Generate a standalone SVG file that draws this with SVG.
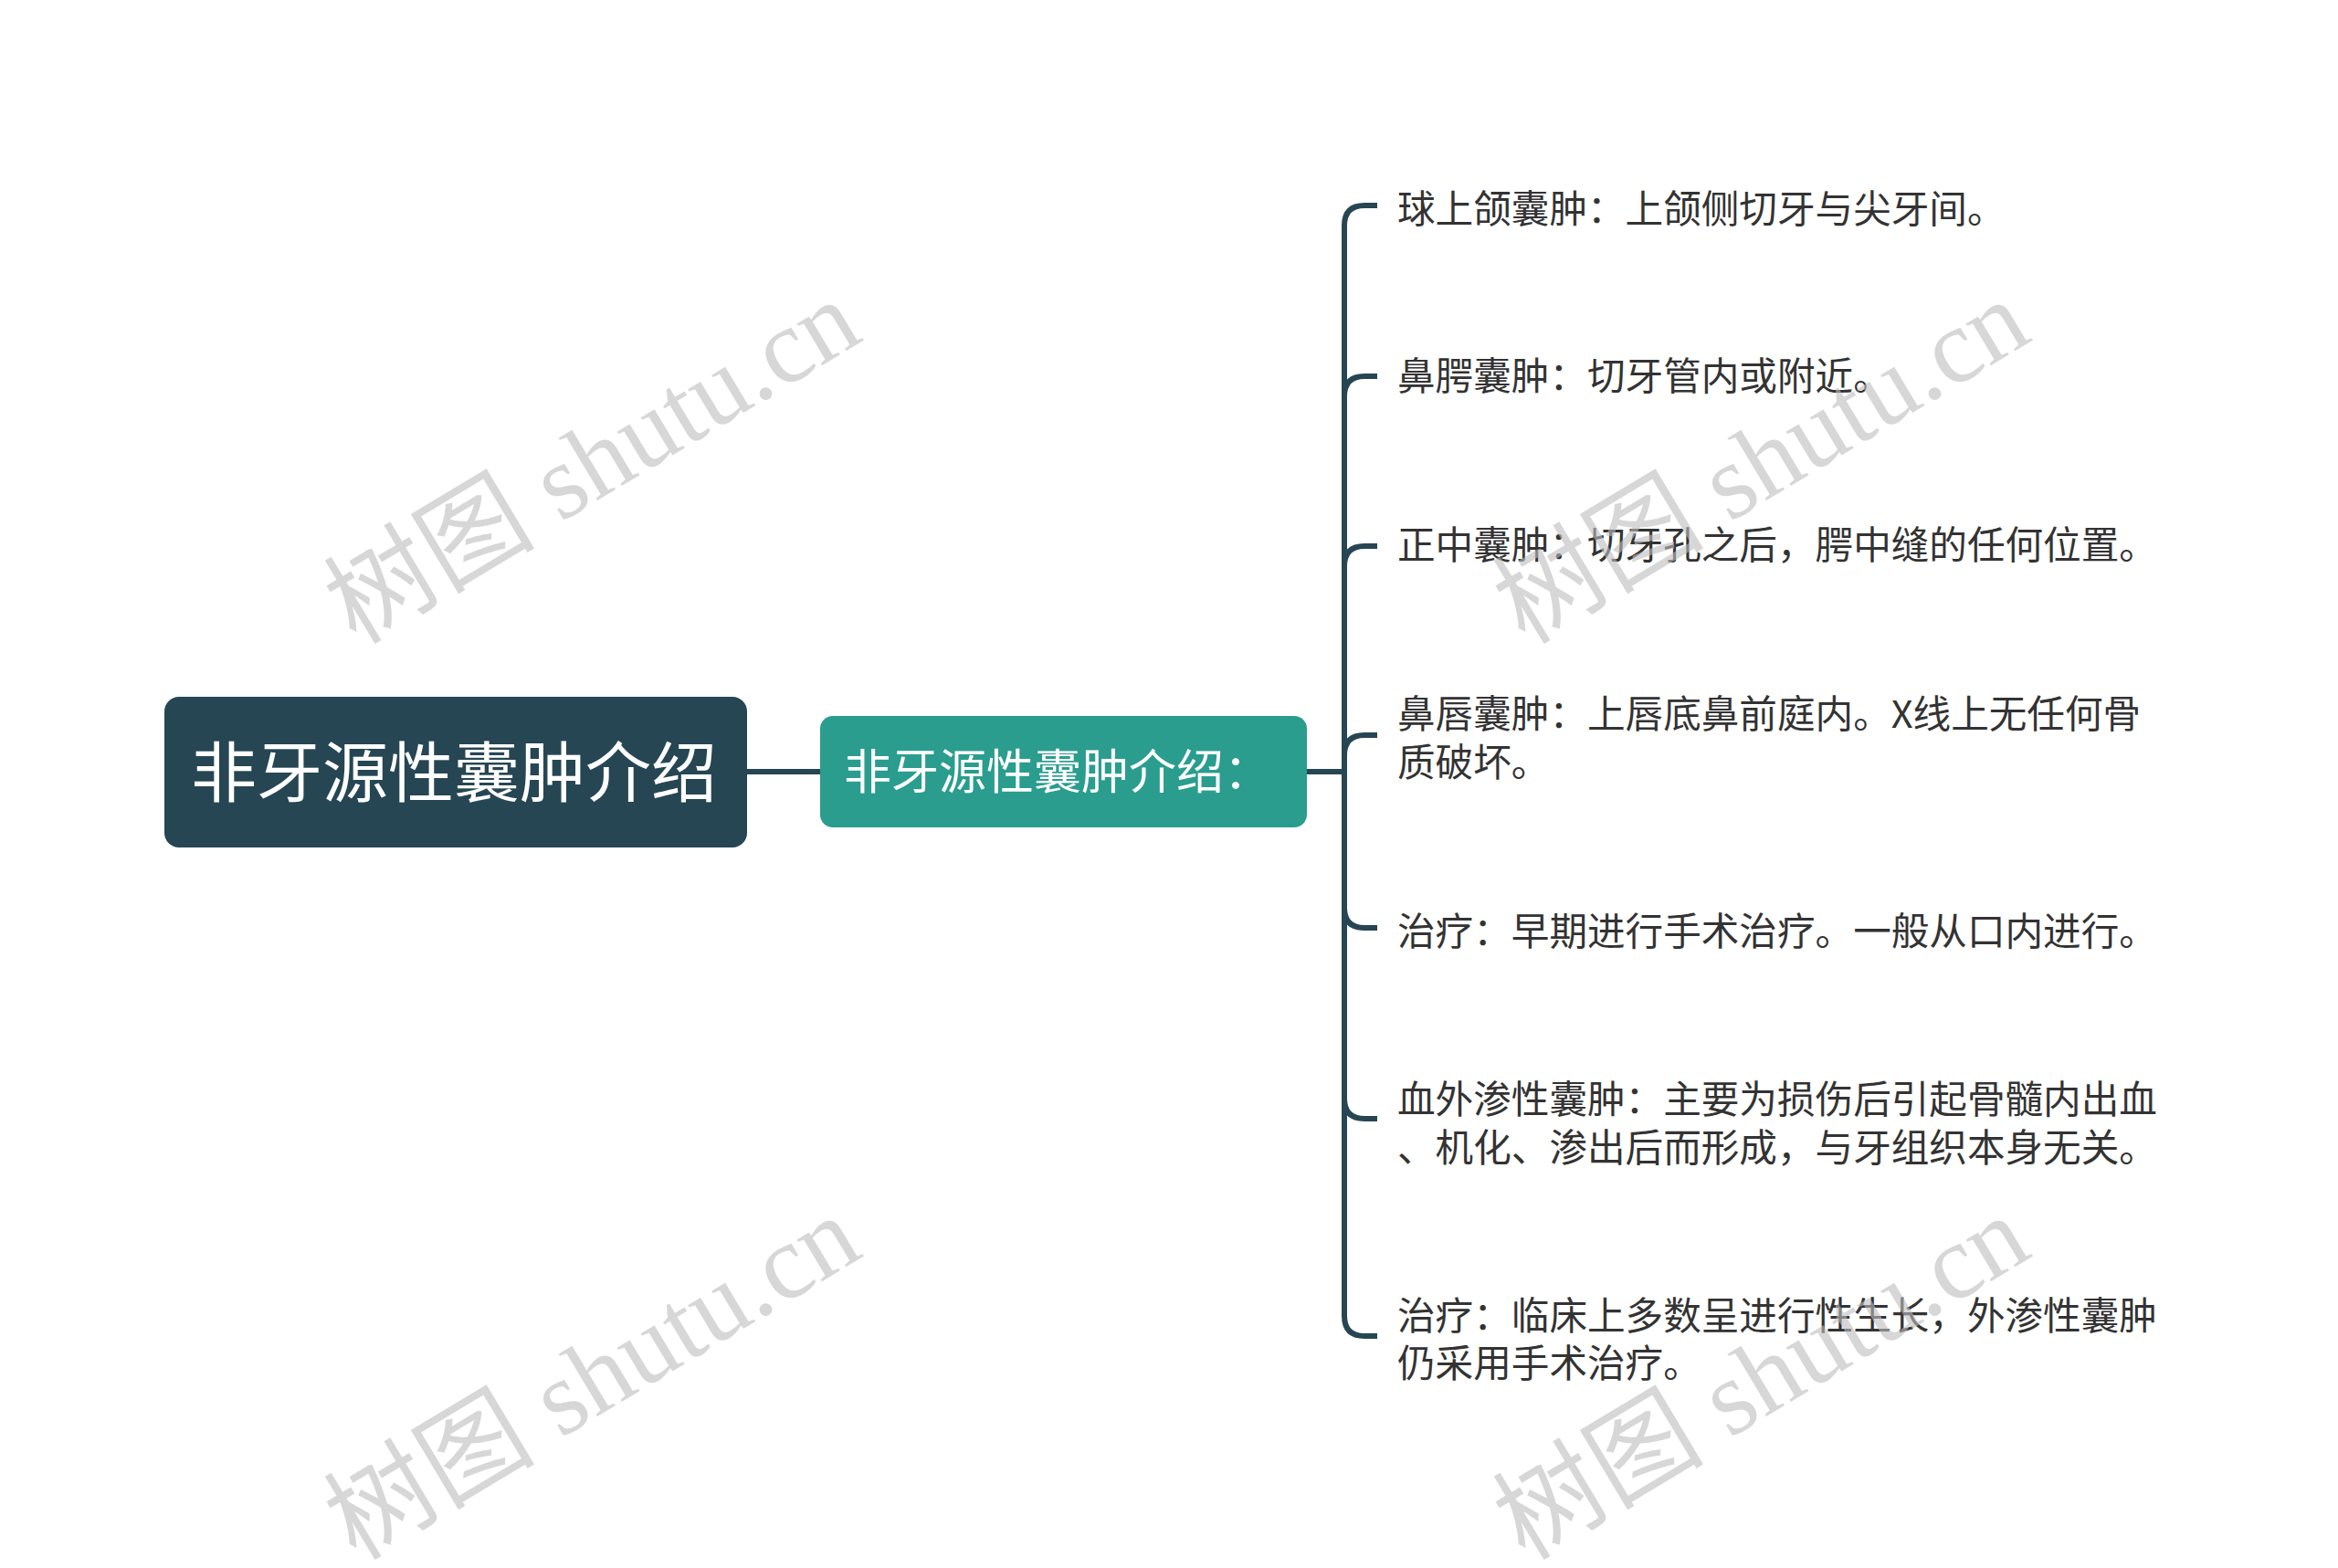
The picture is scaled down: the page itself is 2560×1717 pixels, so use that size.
<svg xmlns="http://www.w3.org/2000/svg" width="2560" height="1717" viewBox="0 0 2560 1717">
<style>
.conn{fill:none;stroke:#264653;stroke-width:6;stroke-linecap:butt}
.t{font-family:"Noto Sans CJK SC","Noto Sans",sans-serif;fill:#333333;font-size:41.6px}
.wm{font-family:"Liberation Serif","DejaVu Serif","Noto Sans CJK SC",serif;font-size:116px;fill:#bdbdbd;fill-opacity:0.6}
</style>
<rect width="2560" height="1717" fill="#ffffff"/>
<g id="connectors">
<line class="conn" x1="818" y1="845" x2="898" y2="845"/>
<line class="conn" x1="1431" y1="845" x2="1472" y2="845"/>
<path class="conn" d="M1472 845 V247 Q1472 225 1494 225 H1508"/>
<path class="conn" d="M1472 845 V434 Q1472 412 1494 412 H1508"/>
<path class="conn" d="M1472 845 V620 Q1472 598 1494 598 H1508"/>
<path class="conn" d="M1472 845 V827 Q1472 805 1494 805 H1508"/>
<path class="conn" d="M1472 845 V994 Q1472 1016 1494 1016 H1508"/>
<path class="conn" d="M1472 845 V1203 Q1472 1225 1494 1225 H1508"/>
<path class="conn" d="M1472 845 V1441 Q1472 1463 1494 1463 H1508"/>
</g>
<g id="root">
<rect x="180" y="763" width="638" height="165" rx="16" fill="#264653"/>
<text x="209" y="872" style="font-family:'Noto Sans CJK SC','Noto Sans',sans-serif;font-size:72px;fill:#ffffff">非牙源性囊肿介绍</text>
</g>
<g id="sub">
<rect x="898" y="784" width="533" height="122" rx="14" fill="#2a9d8f"/>
<text x="924" y="864" style="font-family:'Noto Sans CJK SC','Noto Sans',sans-serif;font-size:52px;fill:#ffffff">非牙源性囊肿介绍：</text>
</g>
<g id="n1"><text class="t" x="1530" y="244">球上颌囊肿：上颌侧切牙与尖牙间。</text></g>
<g id="n2"><text class="t" x="1530" y="427">鼻腭囊肿：切牙管内或附近。</text></g>
<g id="n3"><text class="t" x="1530" y="612">正中囊肿：切牙孔之后，腭中缝的任何位置。</text></g>
<g id="n4"><text class="t" x="1530" y="797">鼻唇囊肿：上唇底鼻前庭内。X线上无任何骨</text><text class="t" x="1530" y="850">质破坏。</text></g>
<g id="n5"><text class="t" x="1530" y="1035">治疗：早期进行手术治疗。一般从口内进行。</text></g>
<g id="n6"><text class="t" x="1530" y="1219">血外渗性囊肿：主要为损伤后引起骨髓内出血</text><text class="t" x="1530" y="1272">、机化、渗出后而形成，与牙组织本身无关。</text></g>
<g id="n7"><text class="t" x="1530" y="1456">治疗：临床上多数呈进行性生长，外渗性囊肿</text><text class="t" x="1530" y="1508">仍采用手术治疗。</text></g>
<g id="watermarks">
<text class="wm" text-anchor="middle" transform="translate(648 505) rotate(-31)" y="40">树图 shutu.cn</text>
<text class="wm" text-anchor="middle" transform="translate(1928 505) rotate(-31)" y="40">树图 shutu.cn</text>
<text class="wm" text-anchor="middle" transform="translate(648 1508) rotate(-31)" y="40">树图 shutu.cn</text>
<text class="wm" text-anchor="middle" transform="translate(1928 1508) rotate(-31)" y="40">树图 shutu.cn</text>
</g>
</svg>
